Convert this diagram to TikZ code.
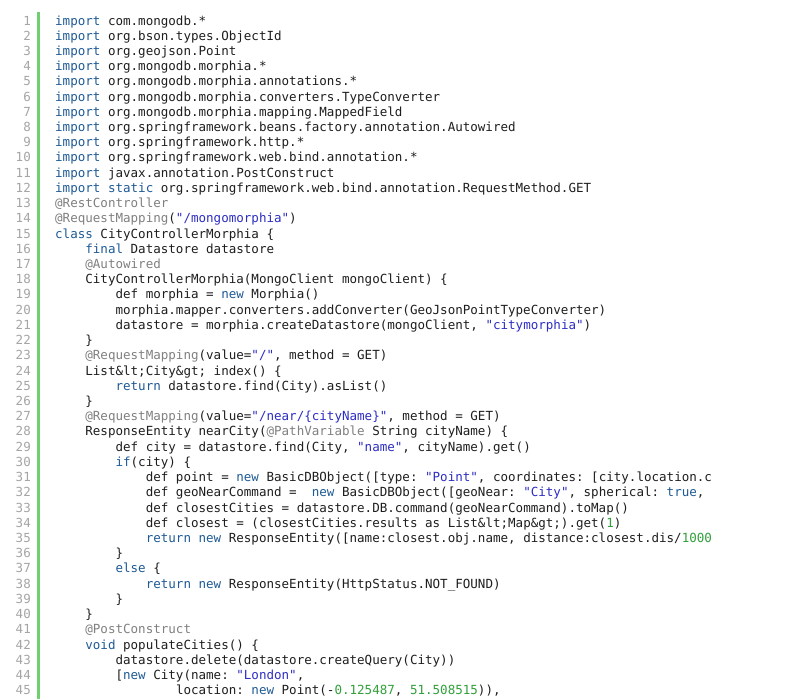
\documentclass[tikz,border=0pt]{standalone}
\usepackage{xcolor}
\usepackage{fontspec}
\usepackage{tikz}
\newfontfamily\codefont{DejaVu Sans Mono}
\definecolor{kwblue}{RGB}{30,90,150}
\definecolor{strblue}{RGB}{45,45,195}
\definecolor{annogray}{RGB}{128,128,128}
\definecolor{numgreen}{RGB}{50,160,60}
\definecolor{plaintext}{RGB}{30,30,30}
\definecolor{linegray}{RGB}{165,165,165}
\definecolor{gutter}{RGB}{112,208,112}
\frenchspacing
\newcommand{\kw}[1]{\textcolor{kwblue}{#1}}
\newcommand{\strg}[1]{\textcolor{strblue}{#1}}
\newcommand{\anno}[1]{\textcolor{annogray}{#1}}
\newcommand{\numb}[1]{\textcolor{numgreen}{#1}}
\newcommand{\cw}{7.55}
\newcommand{\lh}{15.22}
\newcommand{\codeline}[3]{\node[code] (l#1) at ({55+#2*\cw},{25+(#1-1)*\lh}) {#3};}

\begin{document}
\begin{tikzpicture}[x=1pt,y=-1pt,
  code/.style={anchor=base west,inner sep=0pt,text=plaintext,
    font=\codefont\fontsize{12.54pt}{15pt}\selectfont\frenchspacing},
  lineno/.style={anchor=base east,inner sep=0pt,text=linegray,
    font=\codefont\fontsize{12.5pt}{15pt}\selectfont}]
  \useasboundingbox (0,0) rectangle (812,699);
  \fill[white] (0,0) rectangle (812,699);
  % gutter
  \fill[gutter] (37,12) rectangle (40,699);
  \foreach \n in {1,...,45}
    \node[lineno] (n\n) at (31,{25+(\n-1)*\lh}) {\n};
  % imports
  \codeline{1}{0}{\kw{import} com.mongodb.*}
  \codeline{2}{0}{\kw{import} org.bson.types.ObjectId}
  \codeline{3}{0}{\kw{import} org.geojson.Point}
  \codeline{4}{0}{\kw{import} org.mongodb.morphia.*}
  \codeline{5}{0}{\kw{import} org.mongodb.morphia.annotations.*}
  \codeline{6}{0}{\kw{import} org.mongodb.morphia.converters.TypeConverter}
  \codeline{7}{0}{\kw{import} org.mongodb.morphia.mapping.MappedField}
  \codeline{8}{0}{\kw{import} org.springframework.beans.factory.annotation.Autowired}
  \codeline{9}{0}{\kw{import} org.springframework.http.*}
  \codeline{10}{0}{\kw{import} org.springframework.web.bind.annotation.*}
  \codeline{11}{0}{\kw{import} javax.annotation.PostConstruct}
  \codeline{12}{0}{\kw{import} \kw{static} org.springframework.web.bind.annotation.RequestMethod.GET}
  % class
  \codeline{13}{0}{\anno{@RestController}}
  \codeline{14}{0}{\anno{@RequestMapping}(\strg{"/mongomorphia"})}
  \codeline{15}{0}{\kw{class} CityControllerMorphia \{}
  \codeline{16}{4}{\kw{final} Datastore datastore}
  \codeline{17}{4}{\anno{@Autowired}}
  \codeline{18}{4}{CityControllerMorphia(MongoClient mongoClient) \{}
  \codeline{19}{8}{def morphia = \kw{new} Morphia()}
  \codeline{20}{8}{morphia.mapper.converters.addConverter(GeoJsonPointTypeConverter)}
  \codeline{21}{8}{datastore = morphia.createDatastore(mongoClient, \strg{"citymorphia"})}
  \codeline{22}{4}{\}}
  \codeline{23}{4}{\anno{@RequestMapping}(value=\strg{"/"}, method = GET)}
  \codeline{24}{4}{List\&lt;City\&gt; index() \{}
  \codeline{25}{8}{\kw{return} datastore.find(City).asList()}
  \codeline{26}{4}{\}}
  \codeline{27}{4}{\anno{@RequestMapping}(value=\strg{"/near/\{cityName\}"}, method = GET)}
  \codeline{28}{4}{ResponseEntity nearCity(\anno{@PathVariable} String cityName) \{}
  \codeline{29}{8}{def city = datastore.find(City, \strg{"name"}, cityName).get()}
  \codeline{30}{8}{\kw{if}(city) \{}
  \codeline{31}{12}{def point = \kw{new} BasicDBObject([type: \strg{"Point"}, coordinates: [city.location.c}
  \codeline{32}{12}{def geoNearCommand =~~\kw{new} BasicDBObject([geoNear: \strg{"City"}, spherical: \kw{true},}
  \codeline{33}{12}{def closestCities = datastore.DB.command(geoNearCommand).toMap()}
  \codeline{34}{12}{def closest = (closestCities.results as List\&lt;Map\&gt;).get(\numb{1})}
  \codeline{35}{12}{\kw{return} \kw{new} ResponseEntity([name:closest.obj.name, distance:closest.dis/\numb{1000}}
  \codeline{36}{8}{\}}
  \codeline{37}{8}{\kw{else} \{}
  \codeline{38}{12}{\kw{return} \kw{new} ResponseEntity(HttpStatus.NOT\_FOUND)}
  \codeline{39}{8}{\}}
  \codeline{40}{4}{\}}
  \codeline{41}{4}{\anno{@PostConstruct}}
  \codeline{42}{4}{\kw{void} populateCities() \{}
  \codeline{43}{8}{datastore.delete(datastore.createQuery(City))}
  \codeline{44}{8}{[\kw{new} City(name: \strg{"London"},}
  \codeline{45}{16}{location: \kw{new} Point(-\numb{0.125487}, \numb{51.508515})),}
\end{tikzpicture}
\end{document}
